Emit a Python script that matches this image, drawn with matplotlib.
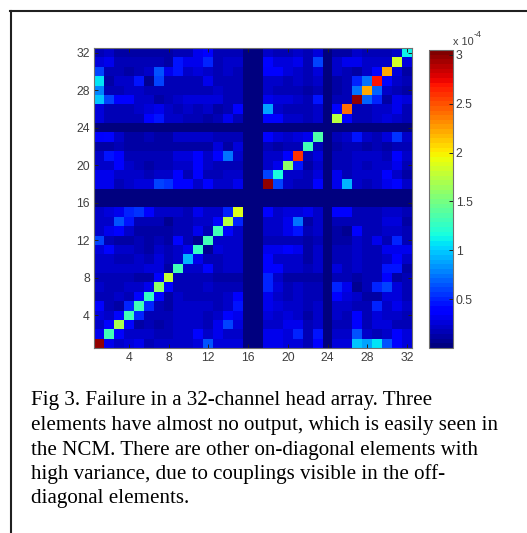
import numpy as np
import matplotlib
matplotlib.use('Agg')
import matplotlib.pyplot as plt
from matplotlib.lines import Line2D

W, H = 527, 533
SCALE = 1e-5
D = 0.3
row01 = [30,3,2,2.5,3,1.5,2,2,2,2,2.5,6.5,2.5,2.5,2.5,D,D,3,3,2.5,2.5,1.5,3.5,D,2.5,2.5,10,9,10.5,6.5,3.5,2.5]
row02 = [3,13,3.5,2,2,2,1.8,1.5,2,2,4,2,3,2,2,D,D,3,3,2.5,5,1.5,4.5,D,2,2,6.5,2,1.5,2,3.5,2.5]
row03 = [2,3.5,17,4,1,1.5,1.2,1.5,2,2,2,1.5,3,6,2.5,D,D,2,2,3,3,1.5,2,D,1.5,1.5,3.5,1.8,2.5,2.5,1.5,1.5]
row04 = [2.5,2,4,13,5,1.5,1.5,1.5,2,2,2,1.8,2,4,3,D,D,2.5,2,2.5,2,1,2,D,2,1.5,3.5,1.5,2.5,2,2,1.5]
row05 = [3.5,1.5,1,5,13,5,1.5,1.2,2,2,2,2,1.5,2,4.5,D,D,3,2.5,2,2,1.5,2,D,2,2,1.8,1.8,5,2,3,2]
row06 = [1.5,1.5,2,1.5,4,12.5,3.5,1,2,1.5,1.5,1.5,1.5,2,3.5,D,D,3,2,1.5,2,1.5,1.5,D,3.5,2.5,2,1.2,1,2.5,2.5,1.5]
row07 = [2,1.5,1.5,2,2,3,16,3.5,1.5,1.5,1.5,2,1.5,1.5,1.5,D,D,5,2.5,1.5,2,1.5,1.5,D,5,3,0.8,1.5,5,6,2.5,1.5]
row08 = [1.5,1.5,1.5,1.5,1.2,1.2,3.5,18,1.5,1.5,1.5,1.5,1,1,1,D,D,5,2,1.2,1,1,1.2,D,1.5,1.5,1.2,1.5,1.5,3.5,1.2,1.5]
row09 = [2,2,2,2,2,2.5,2.5,1,13,2,2,4,1.5,2,2,D,D,3.5,3.5,2,2,1.5,2,D,2.5,1.5,2,1.5,1.5,4.5,4.5,1]
row10 = [2,2,1.5,1.5,2,1.5,2.5,1.5,2,9.5,3,1.5,1.5,2,2,D,D,3.5,2,2,2,1.2,2,D,1.5,1.5,2,1.5,1.5,2,3.5,2]
row11 = [2.5,4,2,2,1.5,1.2,2,1.5,2,3,12.5,0.8,2.5,2,2,D,D,3,3,3.5,3,1.2,2,D,1.5,1.5,2,1.5,1.5,3,3,3]
row12 = [6,1.5,1.2,1.2,1.5,1.2,1.8,1,4,1.5,0.8,13,2,2,2,D,D,1.5,1.5,1.5,1.5,1,1.8,D,1.2,1.2,2,1.5,3,1.5,5,1.5]
row13 = [2,3,3.5,2,1,1,1.2,1.2,1.5,1.5,3,1.5,13,4,2,D,D,2,2,3,4.5,1.5,2,D,1,0.8,3.5,1.5,1.5,2,2,1.5]
row14 = [2,2,6.5,4.5,1.5,1.5,1.5,0.8,1.5,1.5,2,2,4,17.5,5,D,D,2,2,3,7.5,1,2,D,1.5,1.5,1.5,1.5,1.5,2.5,2.5,1.2]
row15 = [2,2.5,3,5,5.5,3.5,2,2,2,1.5,3,2,2,5,19,D,D,3.5,2,2.5,2.5,3,2,D,3.5,3.5,1.5,1.5,1.5,2,2,1.5]
row16 = [D]*32
row17 = [D]*32
row18 = [3,3,1.5,2,2.5,2.5,6,5.5,3.5,3.5,2,3.5,2,2,3,D,D,30,6,2,1.8,1.5,3.5,D,3,9.5,2,1.5,2,3,4,2]
row19 = [3,3,2,2,2,1.5,2,2,3.5,1.5,3.5,1.5,1.5,2,2,D,D,6,11.5,2,2,1.5,2.5,D,3,1.5,2,2,2,3.5,2,1.2]
row20 = [2,2,3.5,2,1.5,1.2,1.5,1.5,2,2,3.5,2,1.5,1.5,1.5,D,D,2,3,16,4.5,1,2,D,1.5,1.5,2,1.5,2,2,3,1.5]
row21 = [2,4.5,3.5,1.5,1.5,1.8,1.5,1.5,2.5,2.5,3.5,2,3.5,7.5,2,D,D,2,2,3.5,26,1.5,2.5,D,1.5,1.5,2,2,2,1.5,3.5,2]
row22 = [1.2,1.2,1.5,1,1.2,1.2,1.2,1,1.2,1.2,1.2,1,2.5,1.2,2.5,D,D,1.5,1.2,1.5,1.8,13,1.5,D,1.2,1.5,1.5,1,1.5,1,1.5,1.5]
row23 = [3.5,4,2,1.2,1.2,1.5,1.2,1.2,2,2,2,2,1.5,1.5,1.5,D,D,3.5,2.5,2,2.5,3,13.5,D,1.5,2,4.5,2,1.5,2.5,5.5,2]
row24 = [D]*32
row25 = [2.5,1.5,1.5,1.5,1.5,3.5,4.5,2,2,1.5,1.5,1,1.5,3,1.5,D,D,3.5,3.5,2,2,1.5,2,D,17.5,3.5,1.5,1.5,2,2.5,2,1.5]
row26 = [2.5,1.5,1.5,1.5,2,2.5,3,2,1.5,2,1.5,2,1,1.5,3.5,D,D,9,2,1.5,1.5,1.5,2,D,3.5,24,1.5,1.5,2,2,3,1.5]
row27 = [10,6,3.5,3.5,2,2,1,1.5,2,2.5,2.5,2.5,2.5,1.5,1.5,D,D,3,2.5,2.5,2,1.5,4.5,D,1.5,1.5,30,7,5,1.2,3,2.5]
row28 = [8,1.5,1.5,2,2,1.5,1.5,1.5,1.5,1.5,1.5,1.5,2,1.5,1.5,D,D,2,1.5,1.5,1.5,1,1.5,D,1.2,1.5,7.5,22,7,2,1.5,1]
row29 = [10.5,1,2,2,4.5,0.8,6,1.5,1.5,1.5,1.5,3,1.5,1.5,1.5,D,D,2,2,1.5,2,1.5,2,D,1.2,1.5,5,7.5,27,4,2,1.5]
row30 = [6,1.5,1.5,1,1.5,2,6.5,3,4.5,2,2.5,2,1.5,2,1.5,D,D,3.5,3.5,2.5,2,1.5,2.5,D,2,1.5,1,2,4,22,2.5,1.2]
row31 = [2.5,3,1.8,1.8,1.8,1.8,1.8,1.2,4.5,3,3,5,1.5,2,2,D,D,4,2.5,2.5,3,1.5,6,D,2,3,3,2,2,2,18.5,2.5]
row32 = [1.5,2,1,1,1,1,1,1,1.5,1.5,3,3.5,1.5,1.5,1.5,D,D,2,1.5,1.5,2,1.5,2.5,D,1,1.2,2,1.5,1.5,1.5,2,11]
rows = [row01,row02,row03,row04,row05,row06,row07,row08,row09,row10,row11,row12,row13,row14,row15,row16,
        row17,row18,row19,row20,row21,row22,row23,row24,row25,row26,row27,row28,row29,row30,row31,row32]
ticks = [4,8,12,16,20,24,28,32]
cbar_ticks = [0.5,1,1.5,2,2.5,3]
cbar_labels = ['0.5','1','1.5','2','2.5','3']
caption = ["Fig 3. Failure in a 32-channel head array. Three",
           "elements have almost no output, which is easily seen in",
           "the NCM. There are other on-diagonal elements with",
           "high variance, due to couplings visible in the off-",
           "diagonal elements."]
caption_baselines = [405,430,455,479,503]

plt.rcParams['font.family'] = ['Liberation Sans','DejaVu Sans']
def rect(l,t,r,b):
    return [l/W, 1-b/H, (r-l)/W, (b-t)/H]

fig = plt.figure(figsize=(W/100,H/100), dpi=100, facecolor='white')
data = np.array(rows)*SCALE
cmap = plt.get_cmap('jet',64)
vmax = 3.05e-4
GR = '#404040'
ax = fig.add_axes(rect(94,48,412,348))
im = ax.imshow(data, origin='lower', cmap=cmap, vmin=0, vmax=vmax, aspect='auto',
               interpolation='nearest', extent=[0.5,32.5,0.5,32.5])
ax.set_xticks(ticks); ax.set_yticks(ticks)
ax.tick_params(direction='in', top=True, right=True, length=3, width=0.7, color='#202020',
               labelsize=8.8, labelcolor=GR, pad=3)
for s in ax.spines.values():
    s.set_linewidth(0.8); s.set_color('#707070')

cax = fig.add_axes(rect(429,50,453,348))
cb = fig.colorbar(im, cax=cax, ticks=[t*1e-4 for t in cbar_ticks])
cb.set_ticklabels(cbar_labels)
cax.tick_params(direction='in', length=3, width=0.7, color='#202020', labelsize=8.8, labelcolor=GR, pad=2)
cax.minorticks_off()
cb.outline.set_linewidth(0.8); cb.outline.set_edgecolor('#707070')

fig.text(453/W, 1-45/H, 'x 10', fontsize=7.8, color=GR, ha='left', va='baseline')
fig.text(474/W, 1-37/H, '-4', fontsize=6.5, color=GR, ha='left', va='baseline')

fig.add_artist(Line2D([10.5/W,10.5/W],[0,1-11/H], color='#202020', lw=1.5))
fig.add_artist(Line2D([10/W,1],[1-11/H,1-11/H], color='#202020', lw=1.5))

for s,b in zip(caption,caption_baselines):
    fig.text(31/W, 1-b/H, s, fontsize=15.15, family=['Liberation Serif','DejaVu Serif'], color='black',
             ha='left', va='baseline')
fig.savefig('out.png', dpi=100)
